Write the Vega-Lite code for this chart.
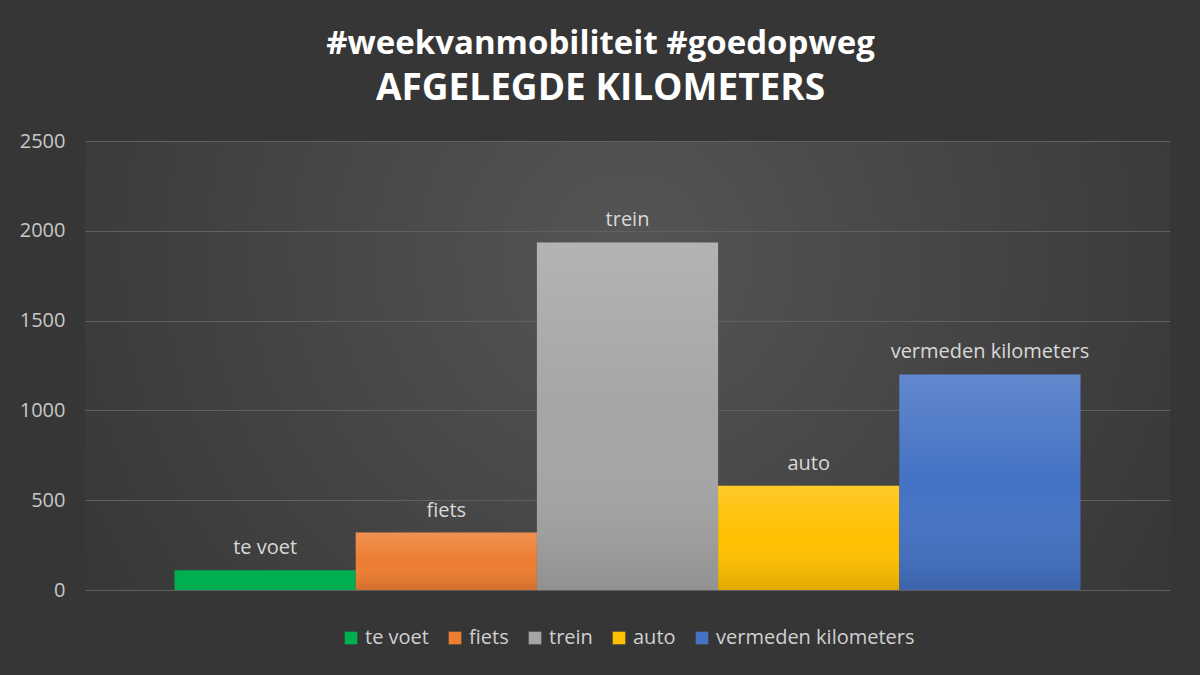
{
  "$schema": "https://vega.github.io/schema/vega-lite/v6.json",
  "autosize": "none",
  "width": 1085,
  "height": 449,
  "padding": {"left": 85, "top": 141, "right": 30, "bottom": 85},
  "background": "#363636",
  "title": {
    "text": "#weekvanmobiliteit #goedopweg",
    "subtitle": "AFGELEGDE KILOMETERS",
    "anchor": "middle",
    "frame": "group",
    "dx": -27,
    "offset": 24,
    "font": "Open Sans",
    "fontSize": 33,
    "fontWeight": "bold",
    "color": "#ffffff",
    "subtitleFont": "Open Sans",
    "subtitleFontSize": 37,
    "subtitleFontWeight": "bold",
    "subtitleColor": "#ffffff",
    "subtitlePadding": 10
  },
  "data": {
    "values": [
      {"categorie": "te voet", "km": 110},
      {"categorie": "fiets", "km": 320},
      {"categorie": "trein", "km": 1935},
      {"categorie": "auto", "km": 580},
      {"categorie": "vermeden kilometers", "km": 1200}
    ]
  },
  "encoding": {
    "x": {
      "field": "categorie",
      "type": "nominal",
      "sort": null,
      "axis": null,
      "scale": {"paddingInner": 0, "paddingOuter": 0.494}
    },
    "y": {
      "field": "km",
      "type": "quantitative",
      "scale": {"domain": [0, 2500], "nice": false},
      "axis": {
        "values": [0, 500, 1000, 1500, 2000, 2500],
        "format": "d",
        "title": null,
        "domain": false,
        "ticks": false,
        "grid": true,
        "gridColor": "#606060",
        "gridWidth": 1.2,
        "labelColor": "#c8c8c8",
        "labelFont": "Open Sans",
        "labelFontSize": 20,
        "labelPadding": 20
      }
    }
  },
  "layer": [
    {
      "mark": {"type": "bar"},
      "encoding": {
        "color": {
          "field": "categorie",
          "type": "nominal",
          "sort": null,
          "scale": {
            "domain": ["te voet", "fiets", "trein", "auto", "vermeden kilometers"],
            "range": ["#00b050", "#ed7d31", "#a5a5a5", "#ffc000", "#4472c4"]
          },
          "legend": {
            "title": null,
            "orient": "bottom",
            "direction": "horizontal",
            "offset": 38,
            "symbolType": "square",
            "symbolSize": 160,
            "symbolStrokeWidth": 0,
            "labelColor": "#d0d0d0",
            "labelFont": "Open Sans",
            "labelFontSize": 20,
            "labelOffset": 4,
            "labelLimit": 0,
            "columnPadding": 16
          }
        }
      }
    },
    {
      "transform": [{"filter": "datum.categorie !== 'te voet'"}],
      "mark": {
        "type": "bar",
        "color": {
          "gradient": "linear",
          "x1": 0, "y1": 0, "x2": 0, "y2": 1,
          "stops": [
            {"offset": 0, "color": "rgba(255,255,255,0.16)"},
            {"offset": 0.5, "color": "rgba(255,255,255,0)"},
            {"offset": 1, "color": "rgba(0,0,0,0.12)"}
          ]
        }
      },
      "encoding": {}
    },
    {
      "mark": {
        "type": "text",
        "dy": -16,
        "baseline": "alphabetic",
        "font": "Open Sans",
        "fontSize": 20,
        "color": "#d9d9d9"
      },
      "encoding": {
        "text": {"field": "categorie"}
      }
    }
  ],
  "config": {
    "legend": {"layout": {"bottom": {"anchor": "middle", "bounds": "full"}}},
    "view": {
      "stroke": null,
      "fill": {
        "gradient": "radial",
        "x1": 0.5, "y1": 0.4, "r1": 0,
        "x2": 0.5, "y2": 0.4, "r2": 0.6,
        "stops": [
          {"offset": 0, "color": "#555555"},
          {"offset": 1, "color": "#363636"}
        ]
      }
    }
  }
}
